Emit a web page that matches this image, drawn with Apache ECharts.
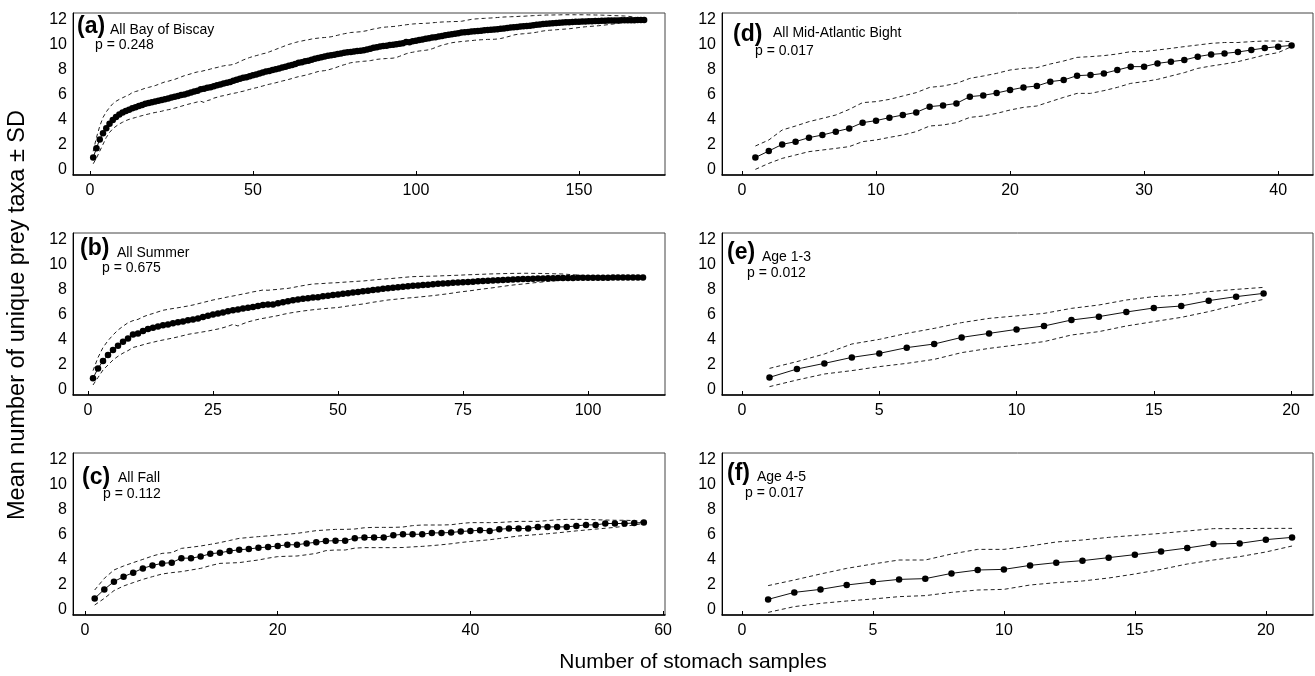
<!DOCTYPE html>
<html><head><meta charset="utf-8">
<script src="https://cdn.jsdelivr.net/npm/echarts@6/dist/echarts.min.js"></script>
<style>html,body{margin:0;padding:0;background:#fff}#c{width:1315px;height:676px}</style>
</head><body><div id="c"></div>
<script>
// ---------------- DATA ----------------
const yTicks = [0, 2, 4, 6, 8, 10, 12];
const ticksA = [0, 50, 100, 150];
const ticksB = [0, 25, 50, 75, 100];
const ticksC = [0, 20, 40, 60];
const ticksD = [0, 10, 20, 30, 40];
const ticksE = [0, 5, 10, 15, 20];
const ticksF = [0, 5, 10, 15, 20];

const meanA = [1.00,1.75,2.45,2.95,3.35,3.70,4.00,4.25,4.45,4.60,
4.72,4.83,4.95,5.03,5.12,5.20,5.30,5.36,5.42,5.48,
5.55,5.60,5.66,5.72,5.80,5.86,5.93,6.00,6.05,6.12,
6.20,6.28,6.35,6.47,6.50,6.58,6.62,6.70,6.78,6.85,
6.92,6.98,7.05,7.15,7.22,7.30,7.38,7.43,7.50,7.58,
7.65,7.72,7.80,7.88,7.92,8.00,8.06,8.12,8.20,8.27,
8.35,8.40,8.48,8.58,8.62,8.70,8.75,8.82,8.90,8.96,
9.02,9.08,9.15,9.18,9.22,9.28,9.33,9.38,9.42,9.45,
9.48,9.52,9.55,9.58,9.65,9.70,9.78,9.82,9.88,9.92,
9.95,10.00,10.03,10.06,10.10,10.15,10.25,10.22,10.30,10.35,
10.40,10.45,10.50,10.55,10.60,10.63,10.68,10.72,10.78,10.82,
10.86,10.90,10.95,11.00,11.02,11.05,11.08,11.10,11.13,11.15,
11.18,11.20,11.22,11.25,11.27,11.30,11.33,11.36,11.40,11.43,
11.45,11.48,11.50,11.52,11.55,11.58,11.62,11.65,11.68,11.70,
11.72,11.74,11.76,11.78,11.80,11.82,11.83,11.85,11.86,11.87,
11.88,11.89,11.90,11.91,11.92,11.93,11.94,11.95,11.96,11.96,
11.97,11.97,11.98,11.98,11.99,11.99,11.99,12.00,12.00,12.00];
const upA = [1.50,2.60,3.50,4.20,4.65,5.00,5.30,5.50,5.65,5.78,
5.90,6.02,6.20,6.28,6.35,6.45,6.55,6.61,6.68,6.75,
6.85,6.95,7.05,7.10,7.18,7.25,7.35,7.45,7.55,7.62,
7.70,7.78,7.85,7.88,7.95,8.00,8.08,8.15,8.20,8.28,
8.33,8.38,8.40,8.45,8.55,8.68,8.80,8.90,9.00,9.08,
9.15,9.22,9.30,9.35,9.45,9.55,9.65,9.75,9.85,9.95,
10.05,10.12,10.20,10.27,10.32,10.38,10.42,10.48,10.52,10.55,
10.58,10.60,10.62,10.66,10.72,10.78,10.85,10.90,10.95,11.00,
11.02,11.04,11.06,11.10,11.15,11.22,11.28,11.32,11.38,11.42,
11.44,11.46,11.48,11.50,11.55,11.58,11.62,11.65,11.68,11.70,
11.72,11.72,11.74,11.75,11.78,11.80,11.82,11.84,11.85,11.86,
11.87,11.88,11.88,11.90,11.95,12.00,12.05,12.08,12.10,12.12,
12.13,12.15,12.16,12.18,12.20,12.22,12.24,12.25,12.26,12.27,
12.28,12.30,12.30,12.32,12.33,12.35,12.36,12.38,12.38,12.40,
12.40,12.40,12.41,12.41,12.42,12.42,12.42,12.42,12.42,12.42,
12.42,12.42,12.41,12.41,12.40,12.40,12.39,12.38,12.37,12.36,
12.35,12.34,12.33,12.32,12.30,12.27,12.23,12.18,12.10,12.00];
const loA = [0.50,0.95,1.50,2.05,2.60,3.00,3.30,3.50,3.68,3.82,
3.95,4.05,4.13,4.20,4.28,4.35,4.42,4.48,4.55,4.60,
4.65,4.70,4.78,4.82,4.88,4.95,5.02,5.10,5.18,5.25,
5.32,5.38,5.45,5.50,5.40,5.55,5.62,5.75,5.82,5.90,
5.95,6.00,6.08,6.13,6.18,6.25,6.30,6.38,6.45,6.52,
6.58,6.65,6.72,6.80,6.86,6.92,6.98,7.05,7.12,7.18,
7.25,7.32,7.40,7.47,7.52,7.58,7.65,7.72,7.80,7.88,
7.92,7.95,8.00,8.08,8.15,8.25,8.35,8.42,8.50,8.58,
8.62,8.65,8.67,8.70,8.72,8.75,8.80,8.85,8.88,8.90,
8.92,8.93,8.95,9.00,9.10,9.20,9.30,9.38,9.42,9.48,
9.52,9.55,9.58,9.62,9.70,9.80,9.90,9.98,10.05,10.12,
10.18,10.22,10.25,10.28,10.30,10.33,10.35,10.38,10.40,10.42,
10.43,10.45,10.45,10.46,10.48,10.52,10.58,10.65,10.72,10.80,
10.85,10.88,10.90,10.93,10.95,10.98,11.02,11.08,11.12,11.16,
11.18,11.20,11.22,11.24,11.26,11.28,11.30,11.33,11.36,11.40,
11.43,11.46,11.48,11.50,11.52,11.54,11.57,11.60,11.63,11.66,
11.70,11.74,11.78,11.82,11.86,11.88,11.90,11.93,11.96,12.00];

const meanB = [0.95,1.73,2.32,2.80,3.20,3.55,3.87,4.13,4.45,4.52,
4.72,4.88,4.98,5.08,5.18,5.25,5.35,5.42,5.48,5.58,
5.65,5.72,5.85,5.95,6.05,6.12,6.20,6.30,6.38,6.45,
6.52,6.58,6.65,6.72,6.80,6.85,6.85,6.95,7.02,7.10,
7.18,7.25,7.30,7.35,7.40,7.42,7.50,7.55,7.60,7.65,
7.70,7.75,7.80,7.85,7.90,7.95,8.00,8.05,8.10,8.15,
8.18,8.22,8.26,8.30,8.34,8.37,8.40,8.43,8.46,8.50,
8.52,8.55,8.58,8.60,8.62,8.65,8.67,8.70,8.72,8.75,
8.77,8.79,8.81,8.83,8.85,8.86,8.88,8.89,8.90,8.92,
8.93,8.94,8.95,8.96,8.96,8.97,8.97,8.98,8.98,8.98,
8.99,8.99,8.99,8.99,9.00,9.00,9.00,9.00,9.00,9.00,9.00];
const upB = [1.55,2.60,3.40,3.95,4.40,4.80,5.10,5.38,5.55,5.65,
5.85,6.00,6.12,6.25,6.38,6.45,6.52,6.58,6.65,6.72,
6.80,6.90,7.00,7.10,7.20,7.28,7.36,7.45,7.52,7.60,
7.68,7.76,7.85,7.92,8.00,7.98,8.02,8.05,8.10,8.13,
8.20,8.28,8.35,8.42,8.48,8.50,8.52,8.55,8.57,8.59,
8.62,8.65,8.67,8.70,8.72,8.76,8.80,8.84,8.87,8.90,
8.93,8.97,9.00,9.04,9.07,9.08,9.09,9.10,9.11,9.12,
9.14,9.15,9.17,9.18,9.20,9.22,9.23,9.25,9.26,9.28,
9.29,9.30,9.31,9.32,9.33,9.33,9.34,9.34,9.33,9.33,
9.32,9.31,9.30,9.29,9.28,9.25,9.22,9.19,9.16,9.12,
9.10,9.09,9.08,9.07,9.07,9.06,9.05,9.04,9.03,9.02,9.00];
const loB = [0.40,1.00,1.60,2.00,2.40,2.70,2.95,3.15,3.40,3.50,
3.62,3.73,3.82,3.92,4.00,4.08,4.16,4.25,4.35,4.45,
4.52,4.58,4.65,4.72,4.80,4.88,4.98,5.10,5.25,5.12,
5.30,5.45,5.55,5.65,5.73,5.80,5.88,5.95,6.05,6.13,
6.20,6.26,6.32,6.37,6.42,6.46,6.50,6.54,6.57,6.60,
6.66,6.72,6.78,6.83,6.88,6.95,7.02,7.08,7.14,7.20,
7.24,7.28,7.32,7.36,7.39,7.43,7.47,7.51,7.55,7.60,
7.65,7.70,7.76,7.82,7.87,7.92,7.97,8.03,8.08,8.13,
8.18,8.24,8.29,8.35,8.40,8.44,8.48,8.52,8.57,8.61,
8.65,8.69,8.72,8.76,8.80,8.83,8.86,8.88,8.91,8.93,
8.94,8.95,8.96,8.97,8.97,8.98,8.98,8.99,8.99,9.00,9.00];

const meanC = [0.93,1.65,2.27,2.67,2.99,3.33,3.57,3.73,3.79,4.15,
4.15,4.28,4.50,4.58,4.72,4.82,4.88,4.98,5.04,5.12,
5.22,5.22,5.33,5.42,5.52,5.55,5.55,5.75,5.80,5.80,
5.80,5.98,6.06,6.06,6.06,6.17,6.17,6.20,6.28,6.33,
6.38,6.33,6.46,6.52,6.52,6.52,6.65,6.65,6.65,6.65,
6.73,6.81,6.81,6.92,6.92,6.92,6.96,7.00];
const upC = [1.60,2.53,3.20,3.52,3.79,4.05,4.32,4.53,4.59,4.93,
5.02,5.12,5.25,5.39,5.56,5.73,5.80,5.87,5.93,6.00,
6.06,6.13,6.24,6.35,6.40,6.45,6.45,6.48,6.58,6.61,
6.61,6.61,6.64,6.75,6.80,6.80,6.80,6.82,6.92,6.99,
6.99,6.99,7.00,7.05,7.09,7.09,7.09,7.15,7.22,7.25,
7.25,7.25,7.22,7.20,7.18,7.18,7.15,7.05];
const loC = [0.40,0.93,1.55,1.92,2.19,2.45,2.67,2.88,2.99,3.07,
3.20,3.33,3.55,3.73,3.76,3.79,3.90,4.00,4.15,4.27,
4.30,4.32,4.42,4.53,4.75,4.80,4.80,4.95,4.99,4.99,
4.99,4.99,5.00,5.05,5.09,5.15,5.22,5.30,5.40,5.48,
5.55,5.62,5.72,5.82,5.92,5.98,6.04,6.10,6.17,6.25,
6.33,6.40,6.47,6.54,6.61,6.70,6.80,6.93];

const meanD = [1.00,1.52,2.05,2.27,2.59,2.80,3.07,3.33,3.79,3.95,
4.19,4.40,4.61,5.07,5.17,5.33,5.87,5.97,6.16,6.40,
6.61,6.72,7.07,7.20,7.55,7.60,7.73,8.00,8.27,8.27,
8.53,8.67,8.80,9.07,9.25,9.33,9.44,9.60,9.76,9.87,9.97];
const upD = [1.92,2.40,3.20,3.52,3.87,4.13,4.40,4.85,5.39,5.47,
5.65,5.92,6.19,6.61,6.72,6.93,7.33,7.52,7.73,8.00,
8.13,8.19,8.48,8.72,9.01,9.07,9.15,9.28,9.47,9.47,
9.60,9.73,9.87,10.00,10.13,10.20,10.20,10.27,10.32,10.32,10.27];
const loD = [0.05,0.53,0.93,1.20,1.47,1.60,1.73,1.87,2.27,2.40,
2.61,2.80,3.07,3.52,3.60,3.79,4.21,4.32,4.53,4.80,
5.01,5.12,5.47,5.81,6.13,6.13,6.35,6.61,6.93,7.07,
7.25,7.52,7.79,8.13,8.32,8.48,8.67,8.93,9.20,9.39,9.87];

const meanE = [1.01,1.68,2.13,2.61,2.93,3.39,3.68,4.21,4.53,4.85,
5.12,5.60,5.87,6.24,6.56,6.72,7.15,7.47,7.73];
const upE = [1.73,2.27,2.88,3.68,4.05,4.53,4.93,5.39,5.73,5.93,
6.13,6.53,6.80,7.20,7.47,7.60,7.87,8.05,8.21];
const loE = [0.27,0.80,1.28,1.55,1.87,2.13,2.45,2.99,3.33,3.60,
3.87,4.40,4.67,5.12,5.47,5.81,6.27,6.80,7.25];

const meanF = [0.85,1.41,1.65,2.00,2.24,2.45,2.51,2.93,3.20,3.25,
3.57,3.79,3.95,4.19,4.43,4.69,4.96,5.28,5.33,5.63,5.81];
const upF = [1.95,2.40,2.88,3.33,3.68,4.00,4.00,4.48,4.85,4.85,
5.12,5.44,5.60,5.81,5.97,6.13,6.32,6.51,6.51,6.53,6.53];
const loF = [-0.19,0.27,0.53,0.72,0.88,1.07,1.15,1.41,1.60,1.65,
2.00,2.19,2.32,2.56,2.88,3.25,3.68,4.00,4.27,4.64,5.12];

const tags = ['(a)', '(b)', '(c)', '(d)', '(e)', '(f)'];
const names = ['All Bay of Biscay', 'All Summer', 'All Fall', 'All Mid-Atlantic Bight', 'Age 1-3', 'Age 4-5'];
const pvals = ['p = 0.248', 'p = 0.675', 'p = 0.112', 'p = 0.017', 'p = 0.012', 'p = 0.017'];
const yTitle = 'Mean number of unique prey taxa \u00b1 SD';
const xTitle = 'Number of stomach samples';

// ---------------- LAYOUT ----------------
const panels = [
  {mean: meanA, up: upA, lo: loA, ticks: ticksA, xmin: -5.2, xmax: 176.4, left: 73, top: 13, w: 592, t: [4, 14, 37, 17.5, 22, 32.5], sym: 6.5},
  {mean: meanB, up: upB, lo: loB, ticks: ticksB, xmin: -3.0, xmax: 115.4, left: 73, top: 233, w: 592, t: [7, 16, 44, 20.5, 29, 35.5], sym: 6.5},
  {mean: meanC, up: upC, lo: loC, ticks: ticksC, xmin: -1.25, xmax: 60.2, left: 73, top: 453, w: 592, t: [9, 25, 45, 25.5, 30, 41.5], sym: 6.5},
  {mean: meanD, up: upD, lo: loD, ticks: ticksD, xmin: -1.49, xmax: 42.6, left: 722, top: 13, w: 591, t: [11, 22, 51, 20.5, 33, 38.5], sym: 6.5},
  {mean: meanE, up: upE, lo: loE, ticks: ticksE, xmin: -0.73, xmax: 20.8, left: 722, top: 233, w: 591, t: [5, 20, 40, 24.5, 25, 40.5], sym: 6.5},
  {mean: meanF, up: upF, lo: loF, ticks: ticksF, xmin: -0.76, xmax: 21.8, left: 722, top: 453, w: 591, t: [5, 21, 35, 24.5, 23, 40.5], sym: 6.5}
];
const H = 162;
const FONT = 'Liberation Sans, Arial, sans-serif';

const toXY = arr => arr.map((v, i) => [i + 1, v]);

const grid = [], xAxis = [], yAxis = [], series = [], graphic = [];
panels.forEach((p, i) => {
  grid.push({left: p.left, top: p.top, width: p.w, height: H, show: true, borderColor: '#444', borderWidth: 1, containLabel: false});
  xAxis.push({
    type: 'value', gridIndex: i, min: p.xmin, max: p.xmax,
    splitLine: {show: false},
    axisLine: {show: true, onZero: false, lineStyle: {color: '#000', width: 1.5}},
    axisTick: {show: true, inside: true, length: 4, customValues: p.ticks, lineStyle: {color: '#000'}},
    axisLabel: {customValues: p.ticks, color: '#000', fontSize: 16, fontFamily: FONT, margin: 8}
  });
  yAxis.push({
    type: 'value', gridIndex: i, min: -0.4, max: 12.56,
    splitLine: {show: false},
    axisLine: {show: true, onZero: false, lineStyle: {color: '#000', width: 1}},
    axisTick: {show: false, customValues: yTicks},
    axisLabel: {customValues: yTicks, color: '#000', fontSize: 16, fontFamily: FONT, margin: 6}
  });
  const dash = {color: '#222', width: 1, type: [4, 3]};
  series.push({type: 'line', xAxisIndex: i, yAxisIndex: i, data: toXY(p.up), symbol: 'none', lineStyle: dash, silent: true, z: 2});
  series.push({type: 'line', xAxisIndex: i, yAxisIndex: i, data: toXY(p.lo), symbol: 'none', lineStyle: dash, silent: true, z: 2});
  series.push({type: 'line', xAxisIndex: i, yAxisIndex: i, data: toXY(p.mean), symbol: 'circle', symbolSize: p.sym,
    itemStyle: {color: '#000'}, lineStyle: {color: '#111', width: 1}, silent: true, z: 3});
  graphic.push({type: 'text', x: p.left + p.t[0], y: p.top + p.t[1],
    style: {text: tags[i], font: 'bold 23px ' + FONT, fill: '#000', verticalAlign: 'middle', textVerticalAlign: 'middle'}});
  graphic.push({type: 'text', x: p.left + p.t[2], y: p.top + p.t[3],
    style: {text: names[i], font: '14px ' + FONT, fill: '#000', verticalAlign: 'middle', textVerticalAlign: 'middle'}});
  graphic.push({type: 'text', x: p.left + p.t[4], y: p.top + p.t[5],
    style: {text: pvals[i], font: '14px ' + FONT, fill: '#000', verticalAlign: 'middle', textVerticalAlign: 'middle'}});
});
graphic.push({type: 'text', x: 18, y: 315, rotation: Math.PI / 2,
  style: {text: yTitle, font: '23.5px ' + FONT, fill: '#000', align: 'center', textAlign: 'center', verticalAlign: 'middle', textVerticalAlign: 'middle'}});
graphic.push({type: 'text', x: 693, y: 662,
  style: {text: xTitle, font: '21px ' + FONT, fill: '#000', align: 'center', textAlign: 'center', verticalAlign: 'middle', textVerticalAlign: 'middle'}});

const chart = echarts.init(document.getElementById('c'), null, {renderer: 'canvas'});
chart.setOption({animation: false, backgroundColor: '#fff', grid, xAxis, yAxis, series, graphic});
</script>
</body></html>
